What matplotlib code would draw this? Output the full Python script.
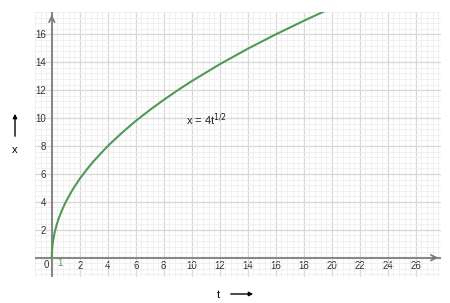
import matplotlib
matplotlib.use("Agg")
import matplotlib.pyplot as plt
import numpy as np

plt.rcParams['font.family'] = ['Liberation Sans', 'DejaVu Sans']

t_vals = [0, 0.02, 0.05, 0.1, 0.2, 0.35, 0.5, 0.75, 1, 1.5, 2, 2.5, 3, 4, 5, 6, 7,
          8, 9, 10, 12, 14, 16, 18, 19.4]
x_vals = [0, 0.57, 0.89, 1.26, 1.79, 2.37, 2.83, 3.46, 4.0, 4.90, 5.66, 6.32, 6.93,
          8.0, 8.94, 9.80, 10.58, 11.31, 12.0, 12.65, 13.86, 14.97, 16.0, 16.97, 17.62]

xticks = [2, 4, 6, 8, 10, 12, 14, 16, 18, 20, 22, 24, 26]
yticks = [2, 4, 6, 8, 10, 12, 14, 16]
curve_label = r"x = 4t$^{1/2}$"

fig = plt.figure(figsize=(4.5, 3.03), dpi=100)
ax = fig.add_axes([35 / 450, 26.3 / 303, 406 / 450, 264.7 / 303])
ax.set_xlim(-1.2, 27.8)
ax.set_ylim(-1.36, 17.6)

# grid (minor every 0.4)
ax.set_xticks(xticks)
ax.set_yticks(yticks)
ax.set_xticks(np.arange(-1.2, 27.9, 0.4), minor=True)
ax.set_yticks(np.arange(-1.2, 17.7, 0.4), minor=True)
ax.grid(which='major', color='#d8d8d8', lw=0.9)
ax.grid(which='minor', color='#eeeeee', lw=0.6)
ax.set_axisbelow(True)
ax.tick_params(which='both', length=0, labelsize=7, labelcolor='#333333')
ax.tick_params(axis='x', pad=-11)
ax.tick_params(axis='y', pad=-8)
for s in ax.spines.values():
    s.set_visible(False)

# axes with arrows
ax.axhline(0, color='#888888', lw=1.5, zorder=2)
ax.axvline(0, color='#888888', lw=1.5, zorder=2)
ax.annotate('', xy=(27.8, 0), xytext=(27.0, 0),
            arrowprops=dict(arrowstyle='->', color='#777777', lw=1.2))
ax.annotate('', xy=(0, 17.6), xytext=(0, 17.0),
            arrowprops=dict(arrowstyle='->', color='#777777', lw=1.2))

ax.text(-0.2, -0.55, '0', fontsize=7, color='#333333', ha='right', va='center')

ax.plot(t_vals, x_vals, color='#4f9a55', lw=1.5, zorder=3, clip_on=True)
ax.text(0.6, -0.35, '1', fontsize=7, color='#4f9a55', ha='center', va='center')
ax.text(9.6, 9.9, curve_label, fontsize=8, color='#222222', va='center')

# axis names with arrows
fig.text(218 / 450, 1 - 295 / 303, 't', fontsize=8, ha='center', va='center')
fig.add_artist(matplotlib.patches.FancyArrowPatch(
    (228 / 450, 1 - 294 / 303), (256 / 450, 1 - 294 / 303),
    transform=fig.transFigure, arrowstyle='-|>', mutation_scale=6, lw=1, color='black'))
fig.text(15 / 450, 1 - 150 / 303, 'x', fontsize=8, ha='center', va='center')
fig.add_artist(matplotlib.patches.FancyArrowPatch(
    (15 / 450, 1 - 139 / 303), (15 / 450, 1 - 111 / 303),
    transform=fig.transFigure, arrowstyle='-|>', mutation_scale=6, lw=1, color='black'))

fig.savefig('out.png', dpi=100)
